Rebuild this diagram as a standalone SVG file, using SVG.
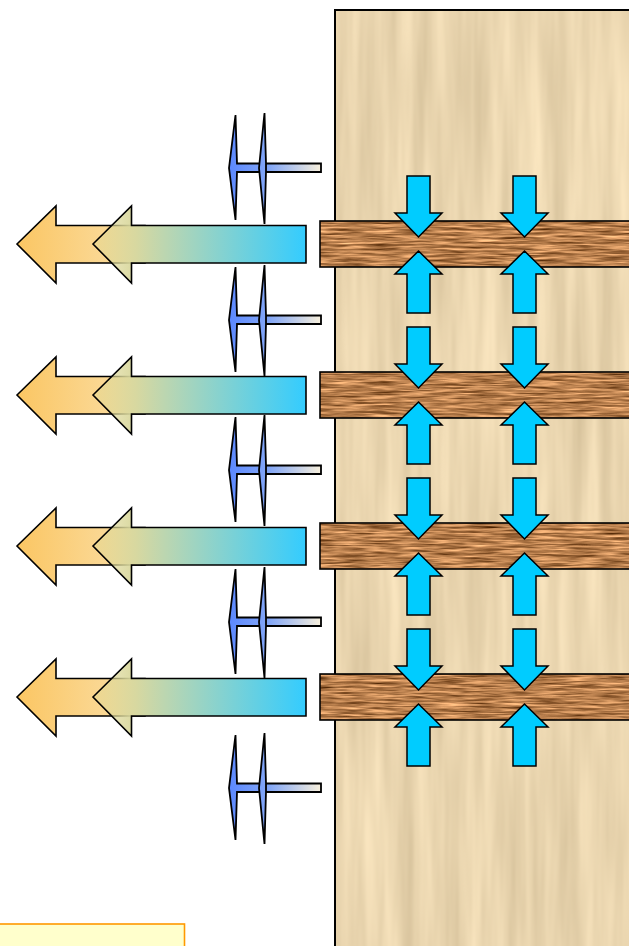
<svg xmlns="http://www.w3.org/2000/svg" width="629" height="946" viewBox="0 0 629 946">
  <style>
    .outline { stroke: #000; stroke-width: 1.6; }
    .press { fill: #00ccff; stroke: #000; stroke-width: 1.5; }
    .thin { stroke: #000; stroke-width: 1.8; }
  </style>
  <defs>
    <!-- light timber grain, running vertically -->
    <filter id="panelGrain" x="0" y="0" width="1" height="1" color-interpolation-filters="sRGB">
      <feTurbulence type="fractalNoise" baseFrequency="0.06 0.004" numOctaves="3" seed="4"/>
      <feColorMatrix type="matrix" values="0.18 0 0 0 0.83  0.18 0 0 0 0.75  0.18 0 0 0 0.60  0 0 0 0 1"/>
      <feComposite operator="in" in2="SourceGraphic"/>
    </filter>
    <!-- darker timber grain, running horizontally -->
    <filter id="barGrain" x="0" y="0" width="1" height="1" color-interpolation-filters="sRGB">
      <feTurbulence type="fractalNoise" baseFrequency="0.03 0.45" numOctaves="3" seed="7"/>
      <feColorMatrix type="matrix" values="1.0 0 0 0 0.22  0.85 0 0 0 0.07  0.7 0 0 0 -0.05  0 0 0 0 1"/>
      <feComposite operator="in" in2="SourceGraphic"/>
    </filter>
    <linearGradient id="orangeFill" gradientUnits="userSpaceOnUse" x1="17" y1="0" x2="145" y2="0">
      <stop offset="0" stop-color="#fbc663"/>
      <stop offset="1" stop-color="#fae0aa"/>
    </linearGradient>
    <linearGradient id="blueFill" gradientUnits="userSpaceOnUse" x1="93" y1="0" x2="306" y2="0">
      <stop offset="0" stop-color="#e2d890" stop-opacity="0.4"/>
      <stop offset="0.2" stop-color="#d8d8a0" stop-opacity="1"/>
      <stop offset="1" stop-color="#33ccff"/>
    </linearGradient>
    <linearGradient id="dartFill" gradientUnits="userSpaceOnUse" x1="229" y1="0" x2="321" y2="0">
      <stop offset="0" stop-color="#5b88ff"/>
      <stop offset="0.45" stop-color="#85a8f6"/>
      <stop offset="1" stop-color="#f8f0dc"/>
    </linearGradient>

    <!-- double-headed thin dart, centred on y = 0 -->
    <g id="dart">
      <path d="M229,0 L235.5,-53 L237,-4.5 H321 V4 H237 L235.5,52 Z" fill="url(#dartFill)" class="thin"/>
      <path d="M259,0 L264.5,-55 L266,-4.5 V4 L264.5,56 Z" fill="url(#dartFill)" class="thin"/>
    </g>
    <!-- pair of wide arrows, centred on y = 0 -->
    <g id="bigPair">
      <path d="M17,0 L56,-38 V-18.5 H145 V19 H56 V39 Z" fill="url(#orangeFill)" class="outline"/>
      <path d="M93,0 L131.5,-38 V-18.5 H306 V19 H131.5 V39 Z" fill="url(#blueFill)" class="outline"/>
    </g>
    <!-- squeeze arrows above and below a bar, centred on the bar -->
    <path id="down" d="M-11.5,-68 H11.5 V-31 H23.5 L0,-7 L-23.5,-31 H-11.5 Z"/>
    <path id="up" d="M0,7 L23.5,30 H11.5 V69 H-11.5 V30 H-23.5 Z"/>
  </defs>

  <rect width="629" height="946" fill="#fff"/>

  <!-- wall panel -->
  <g id="panel">
    <rect x="335" y="10" width="300" height="945" fill="#ebd7af" filter="url(#panelGrain)"/>
    <rect x="335" y="10" width="300" height="945" fill="none" stroke="#000" stroke-width="2"/>
  </g>

  <!-- cross bars -->
  <g id="bar1">
    <rect x="320" y="221" width="315" height="46" fill="#b87d4c" filter="url(#barGrain)"/>
    <rect x="320" y="221" width="315" height="46" fill="none" class="outline"/>
  </g>
  <g id="bar2">
    <rect x="320" y="372" width="315" height="46" fill="#b87d4c" filter="url(#barGrain)"/>
    <rect x="320" y="372" width="315" height="46" fill="none" class="outline"/>
  </g>
  <g id="bar3">
    <rect x="320" y="523" width="315" height="46" fill="#b87d4c" filter="url(#barGrain)"/>
    <rect x="320" y="523" width="315" height="46" fill="none" class="outline"/>
  </g>
  <g id="bar4">
    <rect x="320" y="674" width="315" height="46" fill="#b87d4c" filter="url(#barGrain)"/>
    <rect x="320" y="674" width="315" height="46" fill="none" class="outline"/>
  </g>

  <!-- squeeze arrows on the bars -->
  <g id="press">
    <use href="#down" class="press" transform="translate(418.5,244)"/>
    <use href="#up" class="press" transform="translate(418.5,244)"/>
    <use href="#down" class="press" transform="translate(524.5,244)"/>
    <use href="#up" class="press" transform="translate(524.5,244)"/>
    <use href="#down" class="press" transform="translate(418.5,395)"/>
    <use href="#up" class="press" transform="translate(418.5,395)"/>
    <use href="#down" class="press" transform="translate(524.5,395)"/>
    <use href="#up" class="press" transform="translate(524.5,395)"/>
    <use href="#down" class="press" transform="translate(418.5,546)"/>
    <use href="#up" class="press" transform="translate(418.5,546)"/>
    <use href="#down" class="press" transform="translate(524.5,546)"/>
    <use href="#up" class="press" transform="translate(524.5,546)"/>
    <use href="#down" class="press" transform="translate(418.5,697)"/>
    <use href="#up" class="press" transform="translate(418.5,697)"/>
    <use href="#down" class="press" transform="translate(524.5,697)"/>
    <use href="#up" class="press" transform="translate(524.5,697)"/>
  </g>

  <!-- outgoing arrows on the left -->
  <g id="connectors">
    <use href="#dart" transform="translate(0,168)"/>
    <use href="#bigPair" transform="translate(0,244)"/>
    <use href="#dart" transform="translate(0,320)"/>
    <use href="#bigPair" transform="translate(0,395)"/>
    <use href="#dart" transform="translate(0,470)"/>
    <use href="#bigPair" transform="translate(0,546)"/>
    <use href="#dart" transform="translate(0,622)"/>
    <use href="#bigPair" transform="translate(0,697)"/>
    <use href="#dart" transform="translate(0,788)"/>
  </g>

  <!-- note box -->
  <g id="note">
    <rect x="-2" y="924" width="186.5" height="30" fill="#ffffcc" stroke="#ff9900" stroke-width="1.6"/>
  </g>
</svg>
